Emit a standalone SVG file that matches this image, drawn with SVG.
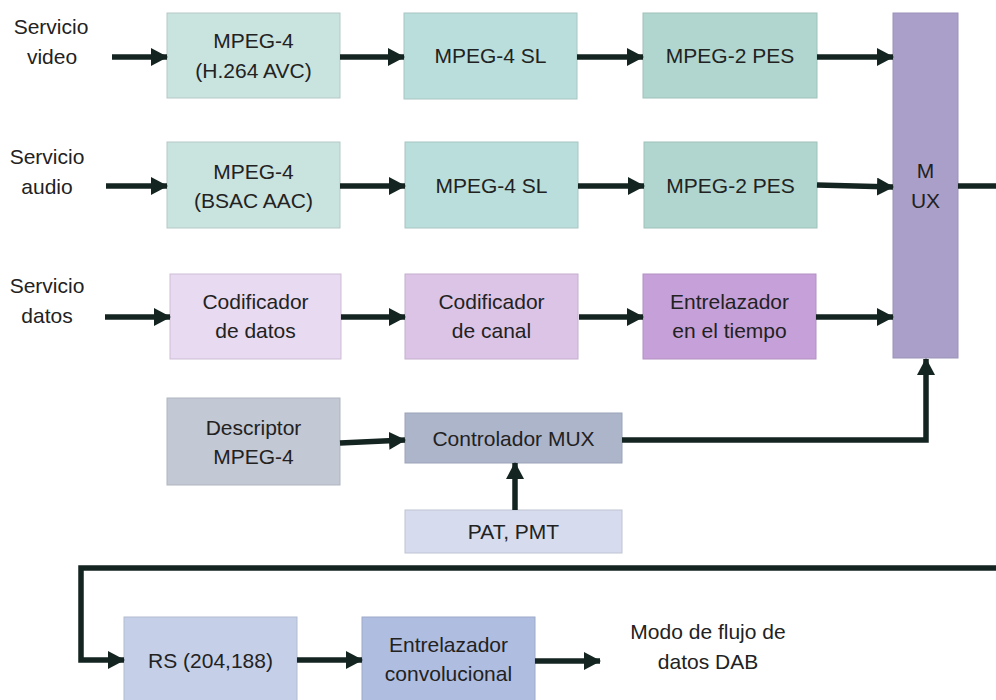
<svg xmlns="http://www.w3.org/2000/svg" width="996" height="700" viewBox="0 0 996 700">
<defs>
<marker id="ah" markerUnits="userSpaceOnUse" markerWidth="17" markerHeight="18" refX="16" refY="9" orient="auto">
<path d="M0,0 L17,9 L0,18 z" fill="#142420"/>
</marker>
<style>
text{font-family:"Liberation Sans",Arial,sans-serif;font-size:21px;fill:#222;text-anchor:middle}
rect{stroke-width:1}
.c{fill:none;stroke:#142420;stroke-width:5.5}
.a{marker-end:url(#ah)}
</style>
</defs>
<rect width="996" height="700" fill="#fff"/>

<g id="lbl-video"><text x="51" y="34">Servicio</text><text x="52" y="64">video</text></g>
<g id="lbl-audio"><text x="47" y="164">Servicio</text><text x="47" y="194">audio</text></g>
<g id="lbl-datos"><text x="47" y="293">Servicio</text><text x="47" y="323">datos</text></g>

<g id="n-h264"><rect x="167" y="13" width="173" height="85" fill="#c9e3df" stroke="#b5c9c6"/><text x="253.5" y="48">MPEG-4</text><text x="253.5" y="78">(H.264 AVC)</text></g>
<g id="n-sl1"><rect x="404" y="13" width="173" height="86" fill="#b9dedb" stroke="#a8c6c3"/><text x="490.5" y="63">MPEG-4 SL</text></g>
<g id="n-pes1"><rect x="643" y="13" width="174" height="85" fill="#b0d6cf" stroke="#9fc0ba"/><text x="730" y="63">MPEG-2 PES</text></g>

<g id="n-bsac"><rect x="167" y="142" width="173" height="86" fill="#c9e3df" stroke="#b5c9c6"/><text x="253.5" y="179">MPEG-4</text><text x="253.5" y="208">(BSAC AAC)</text></g>
<g id="n-sl2"><rect x="405" y="142" width="173" height="86" fill="#b9dedb" stroke="#a8c6c3"/><text x="491.5" y="193">MPEG-4 SL</text></g>
<g id="n-pes2"><rect x="644" y="142" width="173" height="86" fill="#b0d6cf" stroke="#9fc0ba"/><text x="730.5" y="193">MPEG-2 PES</text></g>

<g id="n-coddatos"><rect x="170" y="274" width="171" height="85" fill="#e8daf0" stroke="#cdbdd6"/><text x="255.5" y="309">Codificador</text><text x="255.5" y="338">de datos</text></g>
<g id="n-codcanal"><rect x="405" y="274" width="173" height="85" fill="#dcc4e6" stroke="#c4aecd"/><text x="491.5" y="309">Codificador</text><text x="491.5" y="338">de canal</text></g>
<g id="n-entt"><rect x="643" y="274" width="173" height="85" fill="#c6a0d8" stroke="#b290c2"/><text x="729.5" y="309">Entrelazador</text><text x="729.5" y="338">en el tiempo</text></g>

<g id="n-mux"><rect x="893" y="13" width="65" height="345" fill="#a99fc9" stroke="#9b92b8"/><text x="925.5" y="178">M</text><text x="925.5" y="208">UX</text></g>

<g id="n-desc"><rect x="167" y="398" width="173" height="87" fill="#c2c8d4" stroke="#b0b5bf"/><text x="253.5" y="435">Descriptor</text><text x="253.5" y="464">MPEG-4</text></g>
<g id="n-ctrl"><rect x="405" y="413" width="217" height="50" fill="#adb5cb" stroke="#9ca3b7"/><text x="513.5" y="446">Controlador MUX</text></g>
<g id="n-pat"><rect x="405" y="510" width="217" height="43" fill="#d6dcee" stroke="#bfc4d4"/><text x="513.5" y="539">PAT, PMT</text></g>

<g id="n-rs"><rect x="124" y="617" width="173" height="90" fill="#c5d0e8" stroke="#b1bbd1"/><text x="210.5" y="668">RS (204,188)</text></g>
<g id="n-conv"><rect x="362" y="617" width="173" height="90" fill="#afbde0" stroke="#9eaac9"/><text x="448.5" y="652">Entrelazador</text><text x="448.5" y="681">convolucional</text></g>

<g id="lbl-dab"><text x="708" y="639">Modo de flujo de</text><text x="708" y="669">datos DAB</text></g>

<g id="connectors">
<line class="c a" x1="112" y1="57" x2="167" y2="57"/>
<line class="c a" x1="340" y1="57" x2="404" y2="57"/>
<line class="c a" x1="577" y1="57" x2="643" y2="57"/>
<line class="c a" x1="817" y1="57" x2="893" y2="57"/>
<line class="c a" x1="106" y1="186" x2="167" y2="186"/>
<line class="c a" x1="340" y1="186" x2="405" y2="186"/>
<line class="c a" x1="578" y1="186" x2="644" y2="186"/>
<line class="c a" x1="817" y1="185" x2="893" y2="187"/>
<line class="c a" x1="105" y1="317" x2="170" y2="317"/>
<line class="c a" x1="341" y1="317" x2="405" y2="317"/>
<line class="c a" x1="579" y1="317" x2="643" y2="317"/>
<line class="c a" x1="816" y1="317" x2="893" y2="317"/>
<line class="c a" x1="340" y1="443" x2="405" y2="440"/>
<line class="c a" x1="515" y1="510" x2="515" y2="463"/>
<polyline class="c a" points="622,440 926,440 926,359"/>
<line class="c" x1="958" y1="186" x2="996" y2="186"/>
<polyline class="c a" points="996,568 81,568 81,660 124,660"/>
<line class="c a" x1="297" y1="660" x2="362" y2="660"/>
<line class="c a" x1="535" y1="661" x2="600" y2="661"/>
</g>
</svg>
